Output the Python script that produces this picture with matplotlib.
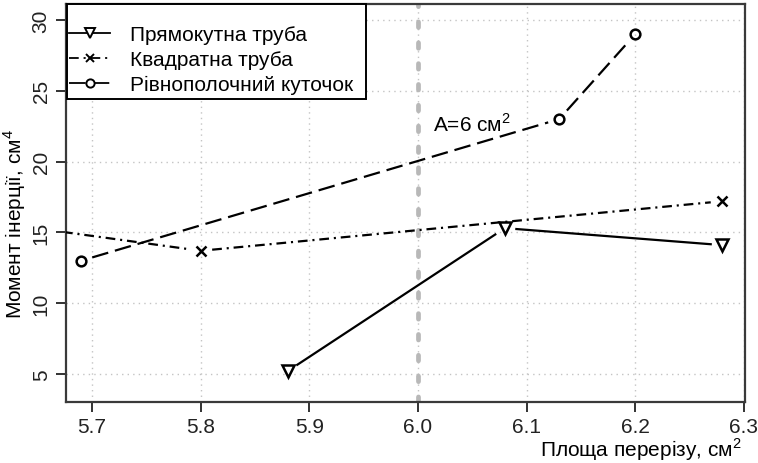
import numpy as np
import matplotlib
matplotlib.use("Agg")
import matplotlib.pyplot as plt
from matplotlib.lines import Line2D
from matplotlib.patches import Rectangle

plt.rcParams["font.family"] = ["Liberation Sans", "DejaVu Sans"]
plt.rcParams["mathtext.fontset"] = "custom"
plt.rcParams["mathtext.rm"] = "Liberation Sans"
plt.rcParams["lines.scale_dashes"] = False

# data
rect_x = [5.88, 6.08, 6.28]
rect_y = [5.2, 15.3, 14.1]
square_x = [5.60, 5.80, 6.28]   # first point lies left of the visible range
square_y = [15.8, 13.7, 17.2]
angle_x = [5.69, 6.13, 6.20]
angle_y = [13.0, 23.0, 29.0]

series = [
    ("Прямокутна труба", rect_x, rect_y, "v", (None,), 9),
    ("Квадратна труба", square_x, square_y, "x", (7, 3.5, 1.5, 3.5), 7.5),
    ("Рівнополочний куточок", angle_x, angle_y, "o", (12, 5), 7),
]

x_ticks = [5.7, 5.8, 5.9, 6.0, 6.1, 6.2, 6.3]
y_ticks = [5, 10, 15, 20, 25, 30]
x_ref = 6.0

FS = 15
GAP = 11.5  # px gap between line ends and points (type="b" look)

fig = plt.figure(figsize=(7.58, 4.64), dpi=100)
ax = fig.add_axes([66 / 758, 1 - 403 / 464, (745 - 66) / 758, (403 - 5) / 464])
ax.set_xlim(5.676, 6.301)
ax.set_ylim(3.02, 31.13)

ax.set_xticks(x_ticks)
ax.set_xticklabels([f"{v:.1f}" for v in x_ticks])
ax.set_yticks(y_ticks)
ax.set_yticklabels([str(v) for v in y_ticks], rotation=90, va="center")
ax.tick_params(direction="out", length=7, width=1.3, colors="#222222",
               labelsize=FS, pad=4, top=False, right=False)
ax.grid(True, color="#c4c4c4", linestyle=(0, (1, 3)), linewidth=1.0)
ax.set_axisbelow(True)
for sp in ax.spines.values():
    sp.set_color("#3a3a3a")
    sp.set_linewidth(1.6)

ax.axvline(x_ref, color="#b8b8b8", linewidth=3.4, linestyle=(0, (4, 11)),
           dash_capstyle="round", zorder=1.5)
ax.text(6.014, 22.7, "A=6 см$^2$", fontsize=FS, va="center", ha="left")

trans = ax.transData
handles = []
for label, xs, ys, mk, dashes, ms in series:
    pts = trans.transform(np.column_stack([xs, ys]))
    ls = "-" if dashes[0] is None else (0, dashes)
    for p0, p1 in zip(pts[:-1], pts[1:]):
        d = p1 - p0
        u = d / np.hypot(*d)
        a = trans.inverted().transform(p0 + u * GAP)
        b = trans.inverted().transform(p1 - u * GAP)
        ax.plot([a[0], b[0]], [a[1], b[1]], color="black", linewidth=1.6,
                linestyle=ls, zorder=3)
    ax.plot(xs, ys, linestyle="none", marker=mk, markersize=ms,
            markerfacecolor="none", markeredgecolor="black",
            markeredgewidth=1.8, zorder=4)
    handles.append(Line2D([0], [0], color="black", linewidth=1.3, linestyle=ls,
                          marker=mk, markersize=ms * 0.85, markerfacecolor="white",
                          markeredgecolor="black", markeredgewidth=1.4, label=label))

# legend frame drawn separately (R-style uneven padding)
ax.add_patch(Rectangle((0.0015, 0.761), 0.44, 0.239, transform=ax.transAxes,
                       facecolor="white", edgecolor="black", linewidth=1.4,
                       zorder=9, clip_on=False))
leg = ax.legend(handles=handles, loc="upper left", bbox_to_anchor=(0.004, 0.946),
                borderaxespad=0, fontsize=FS, frameon=False,
                borderpad=0, labelspacing=0.27, handlelength=2.0,
                handletextpad=0.95)
leg.set_zorder(10)

ax.set_xlabel("Площа перерізу, см$^2$", fontsize=FS, ha="right", va="top")
ax.xaxis.set_label_coords(0.995, -0.083)
ax.set_ylabel("Момент інерції, см$^4$", fontsize=FS, va="bottom")
ax.yaxis.set_label_coords(-0.056, 0.45)

fig.savefig("out.png", dpi=100)
